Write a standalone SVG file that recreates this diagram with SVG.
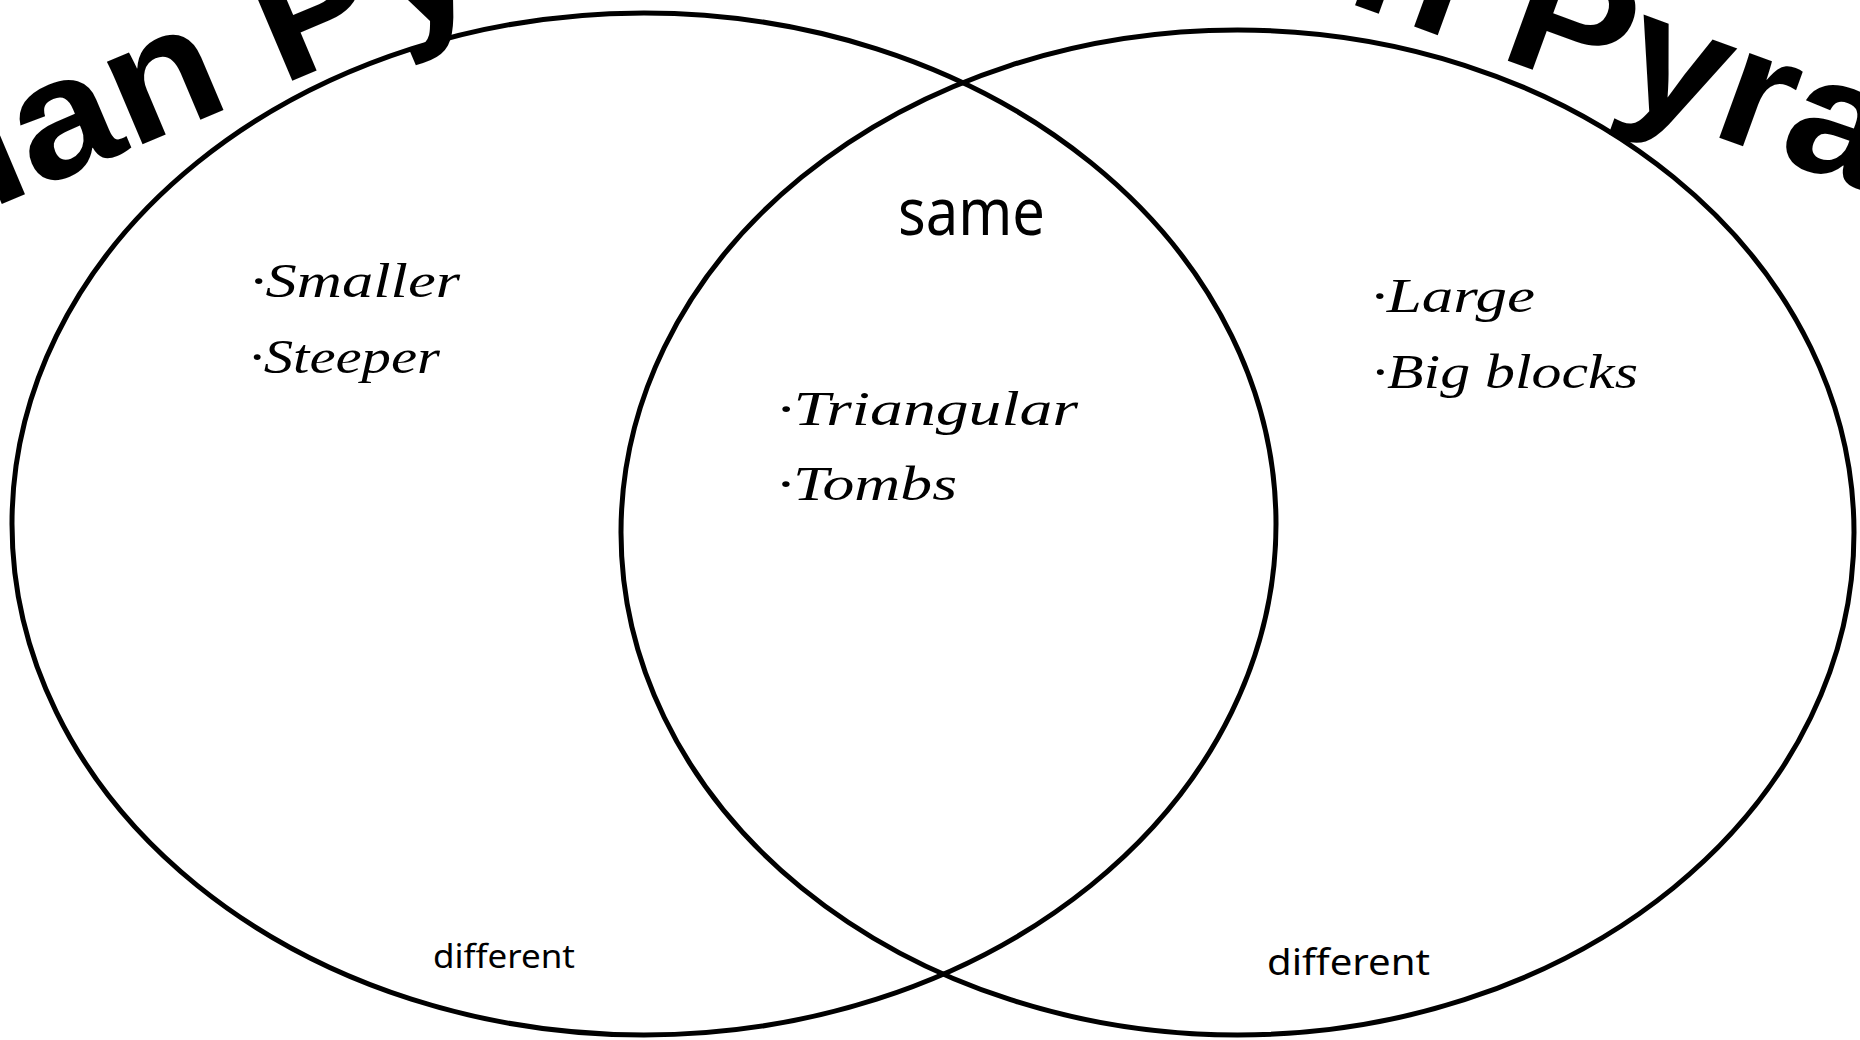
<svg xmlns="http://www.w3.org/2000/svg" width="1860" height="1040" viewBox="0 0 1860 1040">
  <style>
    .set { fill: none; stroke: #000; stroke-width: 5; }
    .title { font-family: "Liberation Sans", Arial, sans-serif; font-weight: bold; font-size: 170px; fill: #000; }
    .item { font-family: "Liberation Serif", "Times New Roman", serif; font-style: italic; font-size: 49px; fill: #000; }
    .label { font-family: "Comic Sans MS", "Noto Sans", "DejaVu Sans", sans-serif; fill: #000; }
  </style>
  <rect x="0" y="0" width="1860" height="1040" fill="#fff"/>
  <g id="left-set">
    <ellipse class="set" cx="644" cy="524" rx="632" ry="511"/>
    <text class="item" x="250" y="297" textLength="210" lengthAdjust="spacingAndGlyphs">·Smaller</text>
    <text class="item" x="249" y="373" textLength="191" lengthAdjust="spacingAndGlyphs">·Steeper</text>
    <text class="label" x="433" y="968" font-size="33" textLength="142" lengthAdjust="spacingAndGlyphs">different</text>
  </g>
  <g id="right-set">
    <ellipse class="set" cx="1237.5" cy="532.5" rx="616.5" ry="502.5"/>
    <text class="item" x="1371" y="312" textLength="164" lengthAdjust="spacingAndGlyphs">·Large</text>
    <text class="item" x="1372" y="388" textLength="266" lengthAdjust="spacingAndGlyphs">·Big blocks</text>
    <text class="label" x="1267" y="975" font-size="37" textLength="163" lengthAdjust="spacingAndGlyphs">different</text>
  </g>
  <g id="intersection">
    <text class="label" x="898" y="235" font-size="66" textLength="147" lengthAdjust="spacingAndGlyphs">same</text>
    <text class="item" x="777" y="425" textLength="301" lengthAdjust="spacingAndGlyphs">·Triangular</text>
    <text class="item" x="777" y="500" textLength="180" lengthAdjust="spacingAndGlyphs">·Tombs</text>
  </g>
  <g id="left-title">
    <text class="title" transform="translate(-10.1,209) rotate(-23) scale(1.08,1)" x="0" y="0">ian Py</text>
  </g>
  <g id="right-title">
    <text class="title" transform="translate(1343,0.7) rotate(20) scale(1.08,1)" x="0" y="0">n Pyra</text>
  </g>
</svg>
